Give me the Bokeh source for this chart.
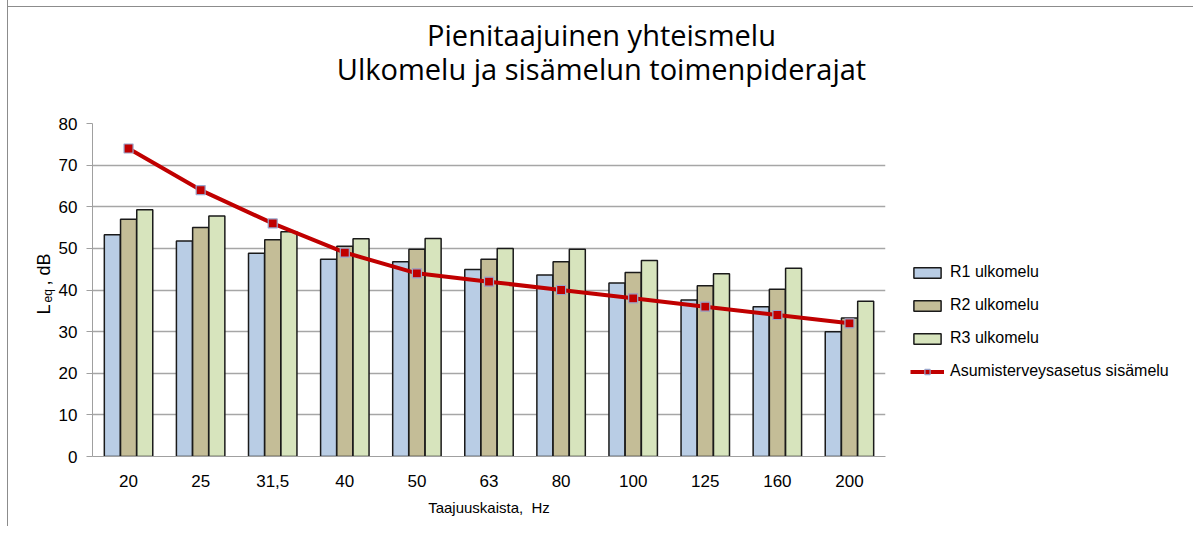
import math
from bokeh.plotting import figure
from bokeh.models import ColumnDataSource, Label, FixedTicker, Legend
from bokeh.transform import dodge
from bokeh.embed import file_html
from bokeh.resources import INLINE

freqs = ["20", "25", "31,5", "40", "50", "63", "80", "100", "125", "160", "200"]
r1 = [53.3, 51.8, 48.8, 47.4, 46.8, 44.9, 43.6, 41.7, 37.6, 36.0, 30.0]
r2 = [57.0, 55.0, 52.1, 50.5, 49.8, 47.4, 46.8, 44.2, 41.0, 40.2, 33.3]
r3 = [59.3, 57.8, 54.0, 52.3, 52.4, 50.0, 49.8, 47.1, 43.9, 45.2, 37.3]
limit = [74, 64, 56, 49, 44, 42, 40, 38, 36, 34, 32]
y_ticks = [0, 10, 20, 30, 40, 50, 60, 70, 80]
title_lines = ["Pienitaajuinen yhteismelu", "Ulkomelu ja sisämelun toimenpiderajat"]

FONT = "Liberation Sans"
TFONT = "Open Sans"

src = ColumnDataSource(dict(freq=freqs, r1=r1, r2=r2, r3=r3, limit=limit))

p = figure(x_range=freqs, y_range=(0, 80), frame_width=793, frame_height=333,
           output_backend="svg", toolbar_location=None, title=None,
           min_border_left=84, min_border_right=300, min_border_top=116, min_border_bottom=70)
p.x_range.range_padding = 0
p.outline_line_color = None
p.border_fill_color = None
p.styles = {"margin-left": "7px", "margin-top": "-10px",
            "border-left": "1px solid #8c8c8c",
            "background-image": "linear-gradient(#8c8c8c, #8c8c8c)",
            "background-size": "100% 1px",
            "background-position": "0 16px",
            "background-repeat": "no-repeat"}

bw = 0.222
common = dict(line_color="#1a1a1a", line_width=1.5)
b1 = p.vbar(x=dodge("freq", -0.225, range=p.x_range), top="r1", width=bw, source=src,
            fill_color="#b9cde5", **common)
b2 = p.vbar(x=dodge("freq", 0.0, range=p.x_range), top="r2", width=bw, source=src,
            fill_color="#c4bd97", **common)
b3 = p.vbar(x=dodge("freq", 0.225, range=p.x_range), top="r3", width=bw, source=src,
            fill_color="#d7e4bd", **common)
ln = p.line(x="freq", y="limit", source=src, line_color="#c00000", line_width=4)
mk = p.scatter(x="freq", y="limit", source=src, marker="square", size=9,
               fill_color="#c00000", line_color="#9aa6cc", line_width=1.2)

# axes
p.yaxis.ticker = FixedTicker(ticks=y_ticks)
p.yaxis.major_tick_out = 6
p.yaxis.major_tick_in = 0
p.yaxis.minor_tick_line_color = None
p.yaxis.axis_line_color = "#a0a0a0"
p.yaxis.major_tick_line_color = "#a0a0a0"
p.yaxis.major_label_standoff = 9
p.yaxis.major_label_text_font = FONT
p.yaxis.major_label_text_font_size = "17px"
p.yaxis.major_label_text_color = "#000000"

p.xaxis.major_tick_line_color = None
p.xaxis.minor_tick_line_color = None
p.xaxis.axis_line_color = "#a0a0a0"
p.xaxis.major_label_standoff = 12
p.xaxis.major_label_text_font = FONT
p.xaxis.major_label_text_font_size = "17px"
p.xaxis.major_label_text_color = "#000000"
p.xaxis.axis_label = "Taajuuskaista,\u00a0 Hz"
p.xaxis.axis_label_text_font = FONT
p.xaxis.axis_label_text_font_size = "15px"
p.xaxis.axis_label_text_font_style = "normal"
p.xaxis.axis_label_text_color = "#000000"
p.xaxis.axis_label_standoff = 9

p.xgrid.grid_line_color = None
p.ygrid.grid_line_color = "#a6a6a6"
p.ygrid.grid_line_width = 1.5

# legend in right panel
lg = Legend(items=[("R1 ulkomelu", [b1]), ("R2 ulkomelu", [b2]), ("R3 ulkomelu", [b3]),
                   ("Asumisterveysasetus sisämelu", [ln, mk])],
            location=(25, 75))
lg.border_line_color = None
lg.background_fill_alpha = 0
lg.padding = 0
lg.margin = 0
lg.glyph_width = 34
lg.glyph_height = 13
lg.label_height = 20
lg.spacing = 13
lg.label_standoff = 6
lg.label_text_font = FONT
lg.label_text_font_size = "16px"
lg.label_text_color = "#000000"
p.add_layout(lg, "right")

def lab(x, y, text, size, font=FONT, angle=0.0, align="left"):
    return Label(x=x, y=y, x_units="screen", y_units="screen", text=text, angle=angle,
                 text_font=font, text_font_size=size, text_align=align,
                 text_baseline="alphabetic", text_color="#000000")

# y axis label pieces: L_eq, dB (rotated), stacked panels above the frame
p.add_layout(lab(-49, -191, "L", "18px", angle=math.pi / 2), "above")
p.add_layout(lab(-45, -189, "eq", "12px", angle=math.pi / 2), "above")
p.add_layout(lab(-49, -185, ", dB", "18px", angle=math.pi / 2), "above")
# title lines
p.add_layout(lab(509, 0, title_lines[1], "29px", font=TFONT, align="center"), "above")
p.add_layout(lab(509, -5, title_lines[0], "29px", font=TFONT, align="center"), "above")

open("out.html", "w").write(file_html(p, INLINE))
